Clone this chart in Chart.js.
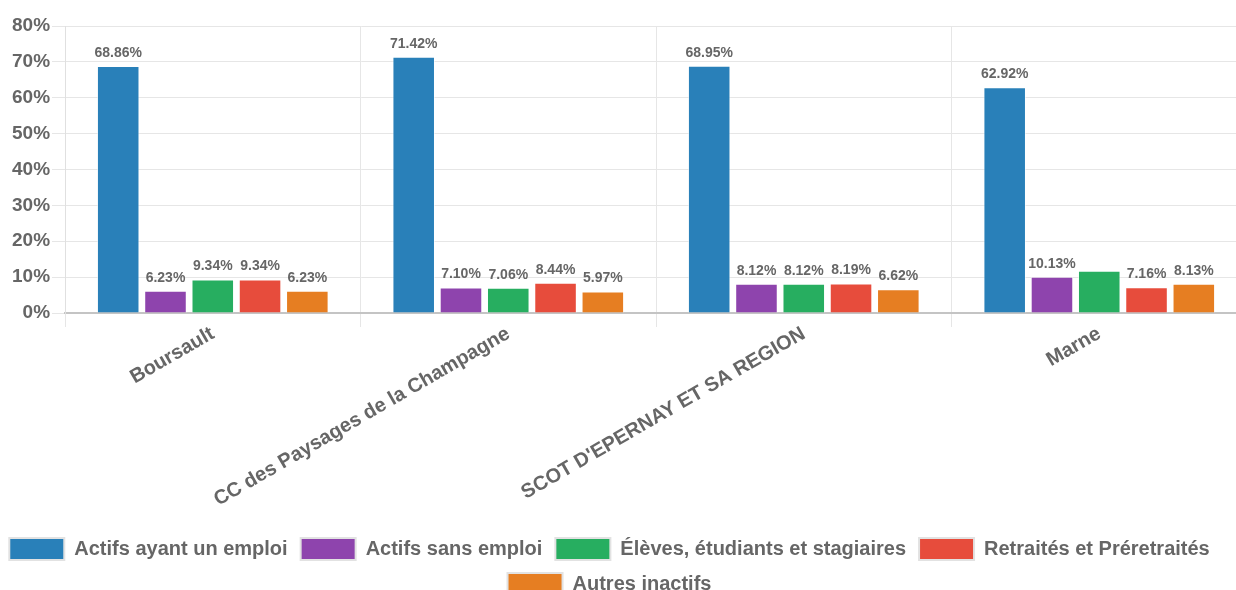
<!DOCTYPE html>
<html lang="fr">
<head>
<meta charset="utf-8">
<title>Population de 15 à 64 ans par type d'activité</title>
<script src="https://cdn.jsdelivr.net/npm/chart.js@4/dist/chart.umd.min.js"></script>
<style>
  html, body { margin: 0; padding: 0; background: #fff; overflow: hidden; }
  #wrap { position: relative; width: 1247px; height: 590px; }
</style>
</head>
<body>
<div id="wrap"><canvas id="chart"></canvas></div>
<script>
// Territoires comparés
const categories = [
  'Boursault',
  'CC des Paysages de la Champagne',
  "SCOT D'EPERNAY ET SA REGION",
  'Marne'
];

// Part de chaque type d'activité (%)
const actifsEmploi   = [68.86, 71.42, 68.95, 62.92];
const actifsSans     = [6.23, 7.10, 8.12, 10.13];
const eleves         = [9.34, 7.06, 8.12, 11.77];
const retraites      = [9.34, 8.44, 8.19, 7.16];
const autresInactifs = [6.23, 5.97, 6.62, 8.13];

const seriesNames = [
  'Actifs ayant un emploi',
  'Actifs sans emploi',
  'Élèves, étudiants et stagiaires',
  'Retraités et Préretraités',
  'Autres inactifs'
];

// Valeurs sans étiquette affichée : [série, catégorie]
const unlabeled = [[2, 3]];

const yTicks = [0, 10, 20, 30, 40, 50, 60, 70, 80];

const colors = ['#2980b9', '#8e44ad', '#27ae60', '#e74c3c', '#e67e22'];
const seriesValues = [actifsEmploi, actifsSans, eleves, retraites, autresInactifs];

const FONT = "'Liberation Sans', Arial, Helvetica, sans-serif";
const TEXT = '#666666';

// Étiquettes de valeur au-dessus des barres
const valueLabels = {
  id: 'valueLabels',
  afterDatasetsDraw(chart) {
    const ctx = chart.ctx;
    ctx.save();
    ctx.font = 'bold 14px ' + FONT;
    ctx.fillStyle = TEXT;
    ctx.textAlign = 'center';
    ctx.textBaseline = 'bottom';
    chart.data.datasets.forEach((ds, di) => {
      const meta = chart.getDatasetMeta(di);
      meta.data.forEach((bar, i) => {
        if (unlabeled.some(([s, c]) => s === di && c === i)) return;
        const v = ds.data[i];
        ctx.fillText(v.toFixed(2) + '%', bar.x, bar.y - 6);
      });
    });
    ctx.restore();
  }
};

// Recentre la légende sur la zone visible
const legendShift = {
  id: 'legendShift',
  afterLayout(chart) {
    const lg = chart.legend;
    if (lg) { lg.left -= 19; lg.right -= 19; }
  }
};

new Chart(document.getElementById('chart'), {
  type: 'bar',
  data: {
    labels: categories,
    datasets: seriesValues.map((vals, i) => ({
      label: seriesNames[i],
      data: vals,
      backgroundColor: colors[i],
      borderColor: 'rgba(255,255,255,0.55)',
      borderWidth: 1,
      categoryPercentage: 0.8,
      barPercentage: 0.9
    }))
  },
  options: {
    responsive: true,
    maintainAspectRatio: false,
    animation: false,
    layout: { padding: { left: 10, top: 26, right: 0, bottom: -15 } },
    plugins: {
      tooltip: { enabled: false },
      legend: {
        position: 'bottom',
        labels: {
          color: TEXT,
          font: { family: FONT, size: 20, weight: 'bold' },
          boxWidth: 55,
          boxHeight: 22,
          padding: 13,
          generateLabels(chart) {
            return chart.data.datasets.map((ds, i) => ({
              text: ds.label,
              fillStyle: ds.backgroundColor,
              strokeStyle: '#e2e2e2',
              lineWidth: 2,
              fontColor: TEXT,
              hidden: !chart.isDatasetVisible(i),
              datasetIndex: i
            }));
          }
        }
      }
    },
    scales: {
      x: {
        afterFit(scale) { scale.height = 212; },
        grid: {
          color: '#e6e6e6',
          tickLength: 14,
          offset: true
        },
        border: { color: '#c4c4c4', width: 2 },
        ticks: {
          color: TEXT,
          font: { family: FONT, size: 20, weight: 'bold' },
          minRotation: 30,
          maxRotation: 30,
          autoSkip: false,
          padding: -5
        }
      },
      y: {
        min: 0,
        max: 80,
        afterBuildTicks(scale) { scale.ticks = yTicks.map(v => ({ value: v })); },
        grid: { color: '#e6e6e6', tickLength: 13 },
        border: { color: '#e0e0e0' },
        ticks: {
          color: TEXT,
          font: { family: FONT, size: 19, weight: 'bold' },
          padding: 2,
          callback: v => v + '%'
        }
      }
    }
  },
  plugins: [valueLabels, legendShift]
});
</script>
</body>
</html>
